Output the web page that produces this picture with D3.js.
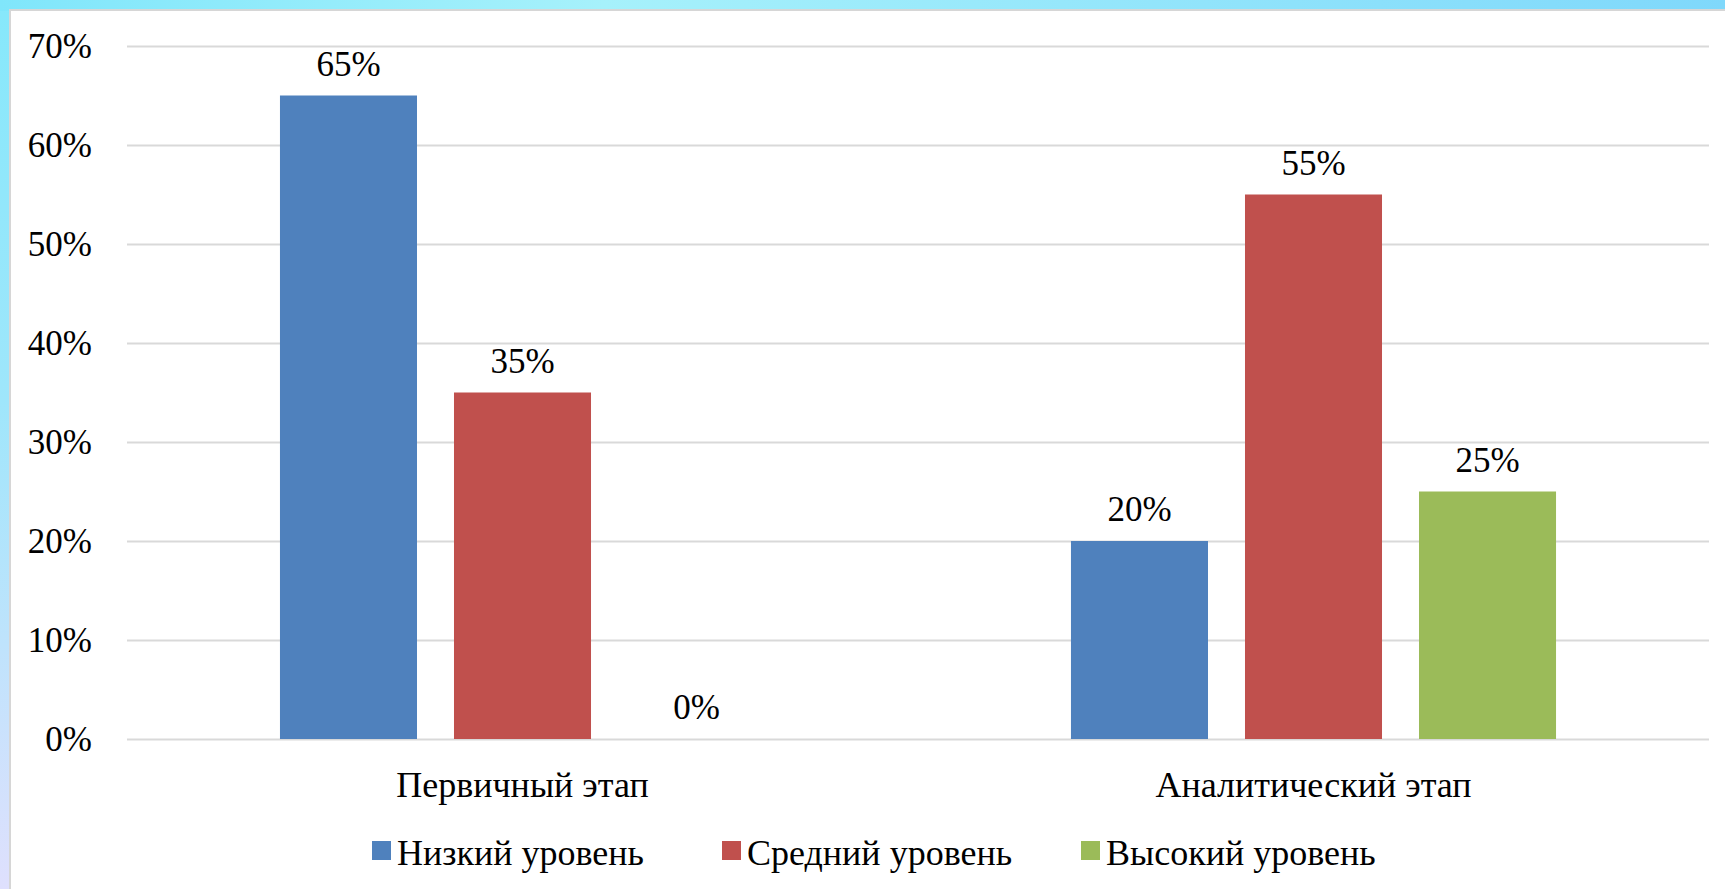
<!DOCTYPE html>
<html><head><meta charset="utf-8">
<script src="https://cdn.jsdelivr.net/npm/d3@7"></script>
<style>
html,body{margin:0;padding:0;overflow:hidden;background:#fff}
</style>
</head><body>
<svg id="chart" width="1725" height="889"></svg>
<script>
const categories = ["Первичный этап", "Аналитический этап"];
const seriesNames = ["Низкий уровень", "Средний уровень", "Высокий уровень"];
const seriesColors = ["#4F81BD", "#C0504D", "#9BBB59"];
const lowValues = [0.65, 0.20];
const midValues = [0.35, 0.55];
const highValues = [0.00, 0.25];
const yTicks = [0, 0.1, 0.2, 0.3, 0.4, 0.5, 0.6, 0.7];

const seriesValues = [lowValues, midValues, highValues];
const W = 1725, H = 889;
const svg = d3.select("#chart");
const defs = svg.append("defs");
const g1 = defs.append("linearGradient").attr("id","bgv").attr("x1",0).attr("y1",0).attr("x2",0).attr("y2",1);
g1.append("stop").attr("offset","0%").attr("stop-color","#86e8fb");
g1.append("stop").attr("offset","45%").attr("stop-color","#9fe6fb");
g1.append("stop").attr("offset","100%").attr("stop-color","#dfe0fd");
const g2 = defs.append("linearGradient").attr("id","bgh").attr("x1",0).attr("y1",0).attr("x2",1).attr("y2",0);
g2.append("stop").attr("offset","0%").attr("stop-color","#80e6fb");
g2.append("stop").attr("offset","35%").attr("stop-color","#a6f1fb");
g2.append("stop").attr("offset","75%").attr("stop-color","#8ee2fb");
g2.append("stop").attr("offset","100%").attr("stop-color","#7fd8fb");

svg.append("rect").attr("width",W).attr("height",H).attr("fill","url(#bgv)");
svg.append("rect").attr("width",W).attr("height",11).attr("fill","url(#bgh)");
svg.append("rect").attr("x",10).attr("y",10).attr("width",W).attr("height",H)
  .attr("fill","#ffffff").attr("stroke","#d6d6d6").attr("stroke-width",2);

function styleText(sel, size) {
  sel.attr("font-family", null).attr("font-size", null)
     .style("font", `normal ${size}px "Liberation Serif", monospace`).attr("fill", "#000");
}
const x0 = d3.scaleBand().domain(categories).range([127, 1709]).paddingInner(0).paddingOuter(0);
const x1 = d3.scaleBand().domain(d3.range(seriesNames.length)).range([0, x0.bandwidth()]).paddingInner(0.2126).paddingOuter(0.879);
const y = d3.scaleLinear().domain([0, 0.7]).range([739, 46]);

// gridlines
const grid = svg.append("g").attr("transform","translate(127,0)")
  .call(d3.axisLeft(y).tickValues(yTicks).tickSize(-(1709-127)).tickFormat(""));
grid.select(".domain").remove();
grid.selectAll("line").attr("stroke","#d9d9d9").attr("stroke-width",2);

// y tick labels
const yAxis = svg.append("g").attr("transform","translate(92,0)")
  .call(d3.axisLeft(y).tickValues(yTicks).tickSize(0).tickPadding(0).tickFormat(d3.format(".0%")));
yAxis.select(".domain").remove();
yAxis.attr("font-family", null).attr("font-size", null);
styleText(yAxis.selectAll("text").attr("dy","0.33em"), 35);

// bars
seriesNames.forEach((s, si) => {
  const vals = seriesValues[si];
  const gg = svg.append("g");
  categories.forEach((c, ci) => {
    const v = vals[ci];
    const bx = x0(c) + x1(si);
    if (v > 0) {
      gg.append("rect").attr("x", bx).attr("y", y(v)).attr("width", x1.bandwidth())
        .attr("height", y(0) - y(v)).attr("fill", seriesColors[si]);
    }
    styleText(gg.append("text").attr("x", bx + x1.bandwidth()/2).attr("y", y(v) - 20)
      .attr("text-anchor","middle").text(d3.format(".0%")(v)), 35);
  });
});

// category labels
const xAxis = svg.append("g").attr("transform","translate(0,739)")
  .call(d3.axisBottom(x0).tickSize(0).tickPadding(0));
xAxis.select(".domain").remove();
xAxis.attr("font-family", null).attr("font-size", null);
styleText(xAxis.selectAll("text").attr("dy",0).attr("y",58), 36);

// legend
const legendX = [372, 722, 1081];
const lg = svg.append("g");
seriesNames.forEach((s, i) => {
  lg.append("rect").attr("x", legendX[i]).attr("y", 841).attr("width", 19).attr("height", 19).attr("fill", seriesColors[i]);
  styleText(lg.append("text").attr("x", legendX[i] + 25).attr("y", 865).text(s), 36);
});
</script>
</body></html>
